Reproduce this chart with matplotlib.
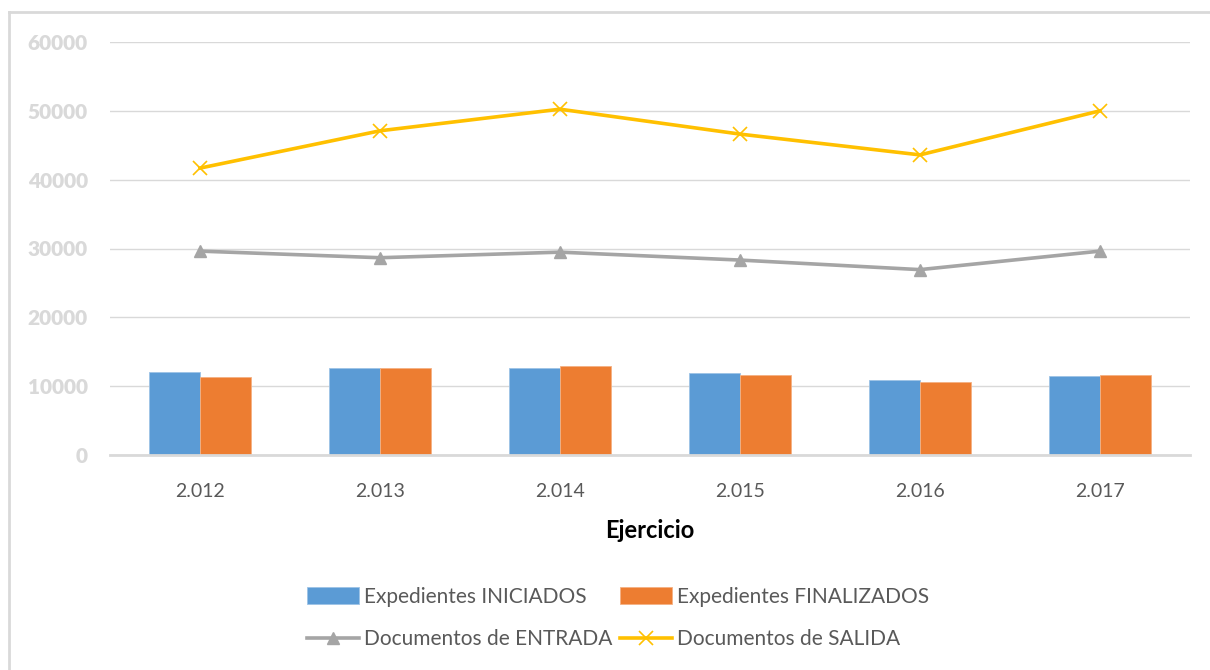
import matplotlib
matplotlib.use("Agg")
import matplotlib.pyplot as plt
import numpy as np
from matplotlib.lines import Line2D

years = ["2.012", "2.013", "2.014", "2.015", "2.016", "2.017"]
exp_iniciados = [12050, 12630, 12630, 11850, 10930, 11510]
exp_finalizados = [11320, 12630, 12980, 11660, 10590, 11660]
doc_entrada = [29620, 28660, 29470, 28320, 26930, 29620]
doc_salida = [41680, 47100, 50240, 46620, 43600, 50000]
y_ticks = [0, 10000, 20000, 30000, 40000, 50000, 60000]

plt.rcParams['font.family'] = ['Lato', 'DejaVu Sans']

W, H = 1210, 670
fig = plt.figure(figsize=(W / 100, H / 100), dpi=100)
ax = fig.add_axes([110 / W, 1 - 455 / H, 1080 / W, (455 - 42) / H])

x = np.arange(len(years))
bw = 0.283
b1 = ax.bar(x - bw / 2, exp_iniciados, bw, color='#5B9BD5', edgecolor='#9DC3E6', linewidth=0.6,
            label='Expedientes INICIADOS', zorder=2)
b2 = ax.bar(x + bw / 2, exp_finalizados, bw, color='#ED7D31', edgecolor='#F4B183', linewidth=0.6,
            label='Expedientes FINALIZADOS', zorder=2)
l1, = ax.plot(x, doc_entrada, color='#A5A5A5', lw=2.6, marker='^', markersize=9,
              label='Documentos de ENTRADA', zorder=3)
l2, = ax.plot(x, doc_salida, color='#FFC000', lw=2.6, marker='x', markersize=10, markeredgewidth=1.2,
              label='Documentos de SALIDA', zorder=3)

ax.set_xlim(-0.5, len(years) - 0.5)
ax.set_ylim(0, 60000)
ax.set_yticks(y_ticks)
ax.set_yticklabels([str(v) for v in y_ticks])
ax.set_xticks(x)
ax.set_xticklabels(years)
ax.grid(axis='y', color='#D9D9D9', lw=1, zorder=0)
ax.set_axisbelow(True)
for s in ['top', 'right', 'left']:
    ax.spines[s].set_visible(False)
ax.spines['bottom'].set_color('#D9D9D9')
ax.spines['bottom'].set_linewidth(2)
ax.tick_params(axis='both', length=0)
ax.tick_params(axis='y', pad=16, labelsize=15, labelcolor='#D9D9D9')
for t in ax.get_yticklabels():
    t.set_fontweight('heavy')
ax.tick_params(axis='x', pad=20, labelsize=14, labelcolor='#595959')
ax.set_xlabel('Ejercicio', fontsize=17, fontweight='bold', color='black', labelpad=14)

handles = [b1, l1, b2, l2]
labels = [h.get_label() for h in handles]
leg = fig.legend(handles, labels, ncol=2, loc='center', bbox_to_anchor=(618 / W, 1 - 618 / H),
                 frameon=False, fontsize=15, handlelength=2.5, handletextpad=0.24,
                 columnspacing=0.38, labelspacing=1.1, handleheight=0.9)
for t in leg.get_texts():
    t.set_color('#595959')

# figure border (top and left visible)
fig.add_artist(Line2D([9 / W, 9 / W], [0, 1 - 12 / H], transform=fig.transFigure, color='#D9D9D9', lw=2))
fig.add_artist(Line2D([9 / W, 1], [1 - 12 / H, 1 - 12 / H], transform=fig.transFigure, color='#D9D9D9', lw=2))

fig.savefig('out.png', dpi=100)
